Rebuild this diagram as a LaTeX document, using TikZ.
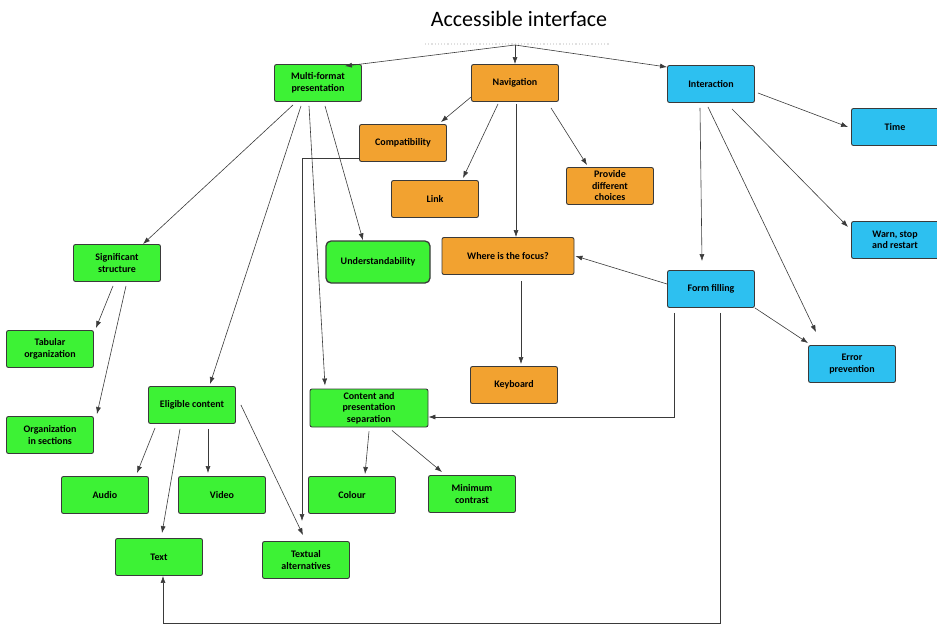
\documentclass[tikz,border=0pt]{standalone}
\usepackage{fontspec}
\setmainfont{Carlito}
\usetikzlibrary{arrows.meta}
\definecolor{boxgreen}{HTML}{3DF235}
\definecolor{boxorange}{HTML}{F2A230}
\definecolor{boxblue}{HTML}{2DC0F0}
\definecolor{edge}{HTML}{3A3A3A}
\begin{document}
\begin{tikzpicture}[x=1pt,y=-1pt,
	box/.style = {draw=edge, line width=0.9pt, rounded corners=2pt, minimum width=87pt, minimum height=37pt, align=center, inner sep=1pt, font=\bfseries\fontsize{10}{11.5}\selectfont},
	gbox/.style = {box, fill=boxgreen},
	obox/.style = {box, fill=boxorange},
	bbox/.style = {box, fill=boxblue},
	arr/.style = {-{Latex[length=7pt,width=5pt]}, draw=edge, line width=0.6pt}]
	\useasboundingbox (0,0) rectangle (937,624);
	% title
	\node[font=\fontsize{22}{26}\selectfont] (title) at (519,19) {Accessible interface};
	\draw[black!12, dotted, line width=1.2pt] (425,44) -- (610,44);
	\coordinate (root) at (515,45);
	% first level
	\node[gbox] (multi) at (318,83) {Multi-format\\presentation};
	\node[obox] (nav) at (515,83) {Navigation};
	\node[bbox] (inter) at (711,84) {Interaction};
	% navigation
	\node[obox] (compat) at (403,143) {Compatibility};
	\node[obox] (link) at (435,199) {Link};
	\node[obox] (choices) at (610,186) {Provide\\different\\choices};
	\node[obox, minimum width=132pt] (focus) at (508,256) {Where is the focus?};
	\node[obox] (keyboard) at (514,385) {Keyboard};
	% interaction
	\node[bbox] (time) at (895,127) {Time};
	\node[bbox] (warn) at (895,240) {Warn, stop\\and restart};
	\node[bbox] (form) at (711,289) {Form filling};
	\node[bbox] (error) at (852,364) {Error\\prevention};
	% multi-format presentation
	\node[gbox, minimum width=104pt, minimum height=42pt, rounded corners=5pt, line width=1.3pt] (understand) at (378,262) {Understandability};
	\node[gbox] (structure) at (117,263) {Significant\\structure};
	\node[gbox] (tabular) at (50,349) {Tabular\\organization};
	\node[gbox] (sections) at (50,435) {Organization\\in sections};
	\node[gbox] (eligible) at (192,405) {Eligible content};
	\node[gbox, minimum width=118pt, minimum height=38pt] (separation) at (369,408) {Content and\\presentation\\separation};
	\node[gbox] (audio) at (105,495) {Audio};
	\node[gbox] (video) at (222,495) {Video};
	\node[gbox] (colour) at (352,495) {Colour};
	\node[gbox] (contrast) at (472,494) {Minimum\\contrast};
	\node[gbox] (text) at (159,557) {Text};
	\node[gbox] (textalt) at (306,560) {Textual\\alternatives};
	% connectors
	\draw[arr] (root) -- ([xshift=-17pt,yshift=-2pt]multi.north east);
	\draw[arr] (root) -- (nav.north);
	\draw[arr] (root) -- ([yshift=-2pt]inter.north west);
	\draw[arr] ([xshift=-25pt,yshift=-3pt]multi.south) -- ([xshift=26pt]structure.north);
	\draw[arr] ([xshift=-17pt,yshift=-4pt]multi.south) -- ([xshift=18pt,yshift=2pt]eligible.north);
	\draw[arr] ([xshift=-9pt,yshift=-4pt]multi.south) -- ([xshift=-44pt,yshift=3pt]separation.north);
	\draw[arr] ([xshift=7pt,yshift=-4pt]multi.south) -- ([xshift=-15pt]understand.north);
	\draw[arr] ([yshift=-14pt]nav.west) -- ([xshift=-6pt,yshift=2pt]compat.north east);
	\draw[arr] ([xshift=-17pt,yshift=-2pt]nav.south) -- ([xshift=28pt,yshift=2pt]link.north);
	\draw[arr] ([xshift=1pt,yshift=-2pt]nav.south) -- ([xshift=8pt]focus.north);
	\draw[arr] ([xshift=36pt,yshift=-6pt]nav.south) -- ([xshift=-23pt,yshift=2pt]choices.north);
	\draw[arr] ([yshift=-15pt]compat.west) -| ([xshift=-4pt,yshift=20pt]textalt.north);
	\draw[arr] ([xshift=-4pt,yshift=-4pt]structure.south) -- ([xshift=2pt,yshift=2pt]tabular.north east);
	\draw[arr] ([xshift=9pt,yshift=-4pt]structure.south) -- ([xshift=3pt,yshift=2pt]sections.north east);
	\draw[arr] ([xshift=-37pt,yshift=-4pt]eligible.south) -- ([xshift=32pt,yshift=3pt]audio.north);
	\draw[arr] ([xshift=-12pt,yshift=-5pt]eligible.south) -- ([xshift=3pt,yshift=5pt]text.north);
	\draw[arr] ([xshift=16pt,yshift=-5pt]eligible.south) -- ([xshift=-14pt,yshift=3pt]video.north);
	\draw[arr] ([xshift=5pt]eligible.east) -- ([xshift=-3pt,yshift=6pt]textalt.north);
	\draw[arr] ([yshift=-4pt]separation.south) -- ([xshift=13pt,yshift=2pt]colour.north);
	\draw[arr] ([xshift=23pt,yshift=-3pt]separation.south) -- ([xshift=-30pt,yshift=3pt]contrast.north);
	\draw[arr] ([xshift=13pt,yshift=-6pt]focus.south) -- ([xshift=7pt,yshift=2pt]keyboard.north);
	\draw[arr] ([xshift=3pt,yshift=-9pt]inter.east) -- ([xshift=-3pt]time.west);
	\draw[arr] ([xshift=21pt,yshift=-6pt]inter.south) -- ([xshift=-3pt,yshift=13pt]warn.west);
	\draw[arr] ([xshift=-3pt,yshift=-4pt]inter.south) -- ([xshift=-36pt,yshift=13pt]error.north);
	\draw[arr] ([xshift=-11pt,yshift=-5pt]inter.south) -- ([xshift=-9pt,yshift=9pt]form.north);
	\draw[arr] (form.south east) -- ([yshift=2pt]error.north west);
	\draw[arr] ([yshift=5pt]form.west) -- ([xshift=1pt]focus.east);
	\draw[arr] ([xshift=-37pt,yshift=-5pt]form.south) |- ([yshift=-9pt]separation.east);
	\draw[arr] ([xshift=9pt,yshift=-5pt]form.south) -- ++(0,310) -| ([xshift=4pt]text.south);
\end{tikzpicture}
\end{document}
